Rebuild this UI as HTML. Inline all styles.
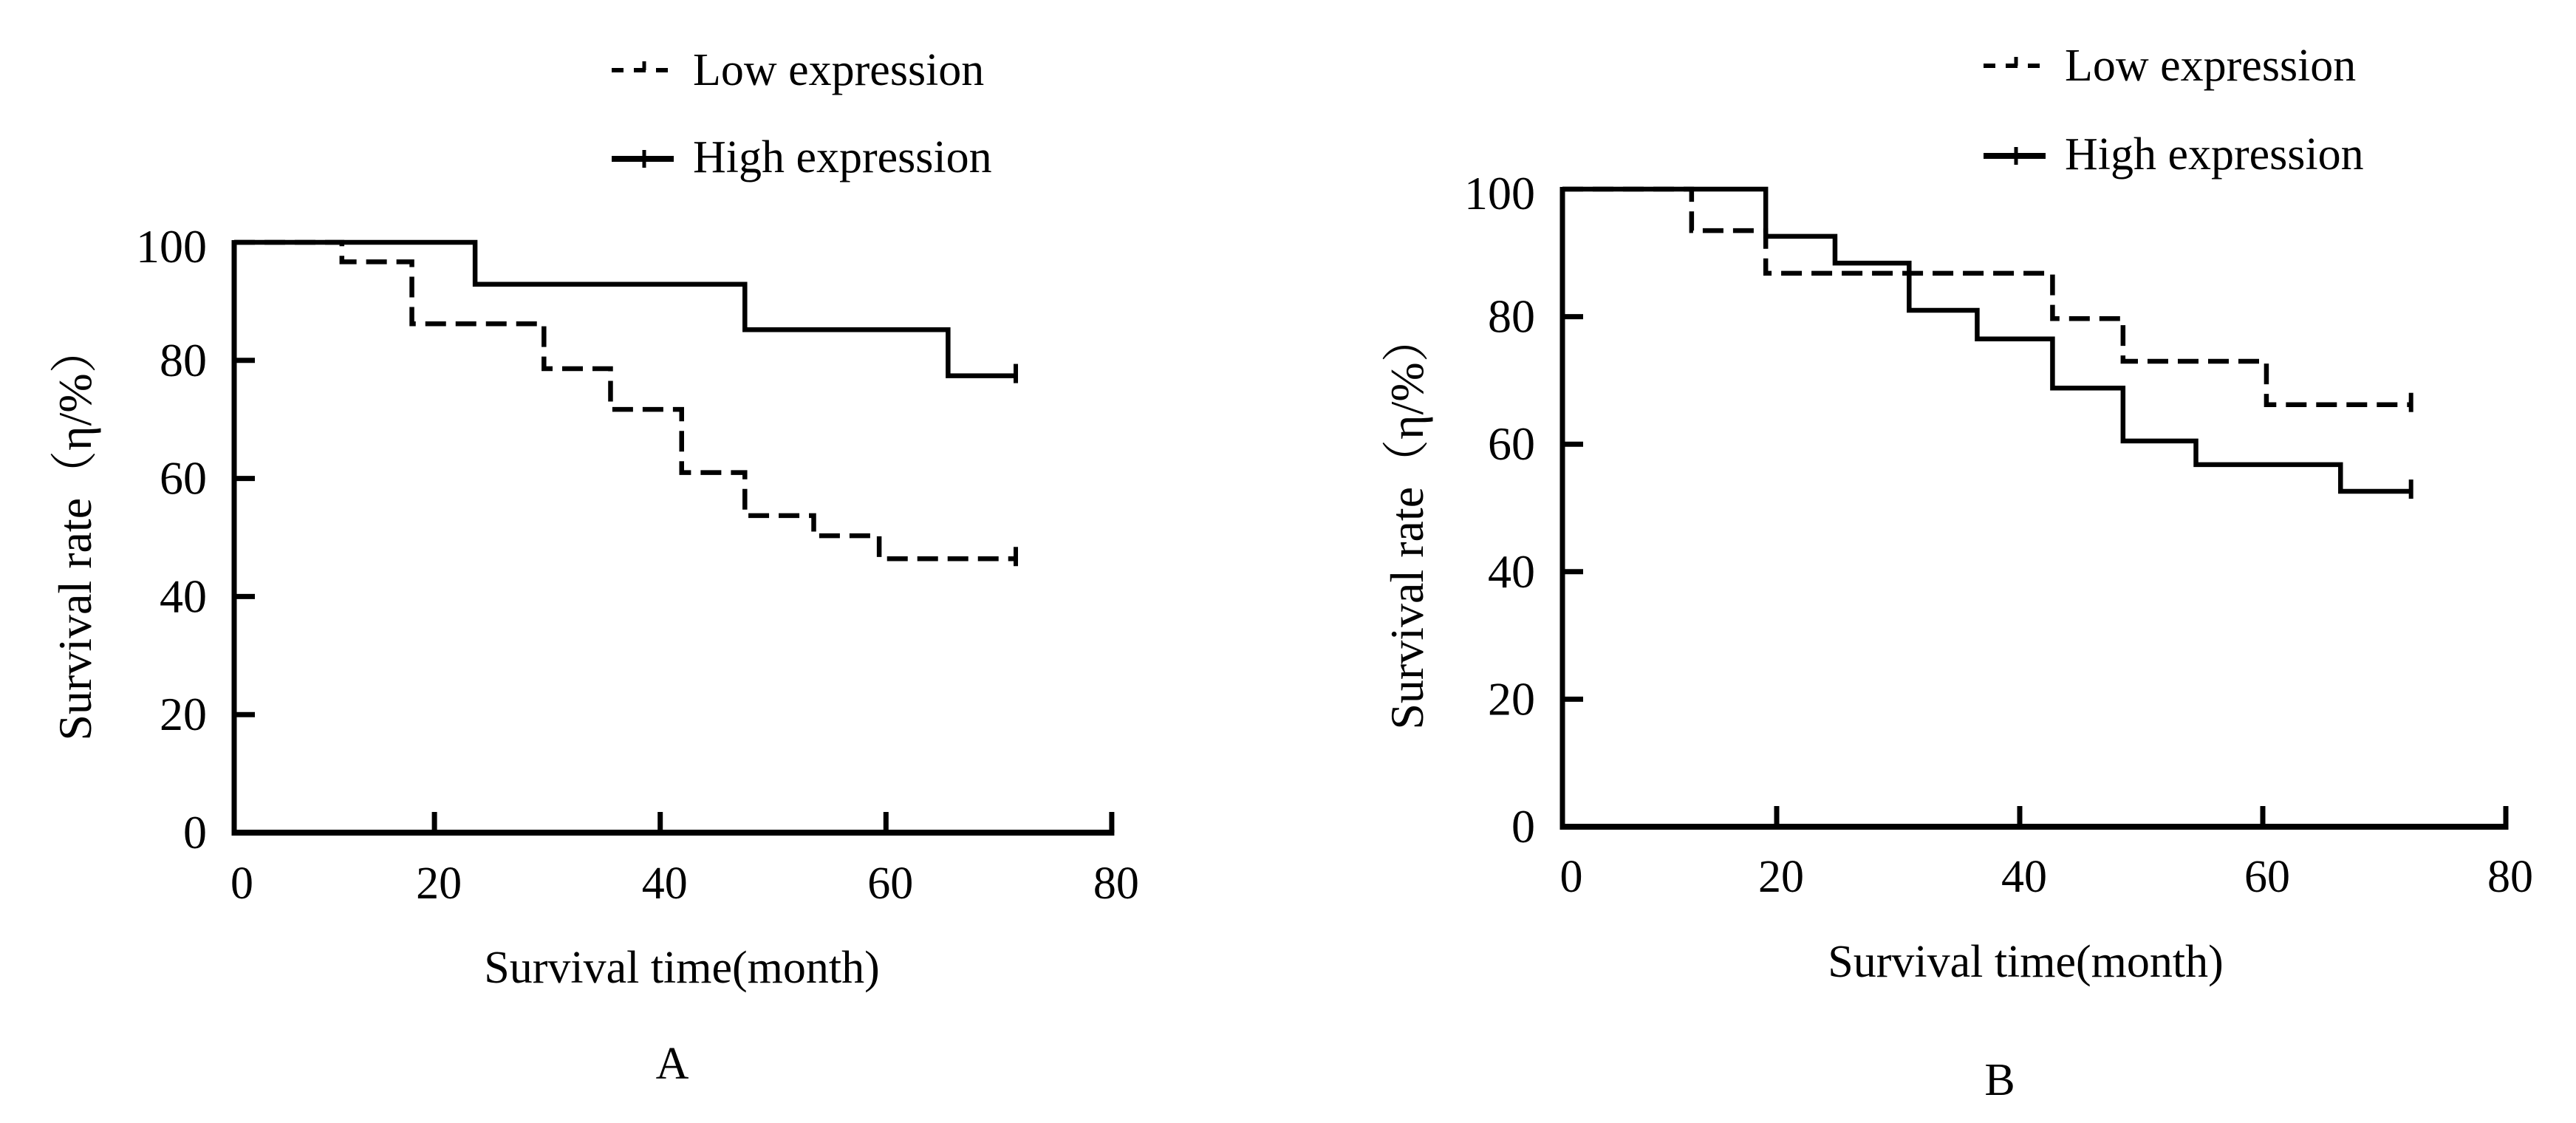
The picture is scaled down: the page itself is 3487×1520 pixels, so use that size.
<!DOCTYPE html>
<html><head><meta charset="utf-8">
<style>
html,body{margin:0;padding:0;background:#fff;}
svg{display:block;}
text{font-family:"Liberation Serif","Noto Serif CJK SC",serif;fill:#000;}
</style></head>
<body>
<svg id="fig" width="3487" height="1520" viewBox="0 0 3487 1520" xmlns="http://www.w3.org/2000/svg">
<rect width="3487" height="1520" fill="#fff"/>
</svg>
<script>
// Panel A data
const aLowTimes=[11.8,18,29.7,35.6,41.9,47.5,53.6,59.4];
const aLowSurv=[96.7,86.2,78.6,71.7,61,53.7,50.3,46.4];
const aLowEnd=71.5;
const aHighTimes=[23.6,47.5,65.5];
const aHighSurv=[92.9,85.2,77.4];
const aHighEnd=71.5;
// Panel B data
const bLowTimes=[13,19.1,42.7,48.5,60.3];
const bLowSurv=[93.5,86.8,79.7,73,66.2];
const bLowEnd=72.2;
const bHighTimes=[19.1,24.8,30.9,36.5,42.7,48.5,54.5,66.4];
const bHighSurv=[92.6,88.4,81,76.5,68.8,60.5,56.8,52.6];
const bHighEnd=72.2;
// Axis ticks
const xTicks=[0,20,40,60,80];
const yTicks=[0,20,40,60,80,100];

const NS='http://www.w3.org/2000/svg';
const svg=document.getElementById('fig');
function mk(tag,attrs,parent){const e=document.createElementNS(NS,tag);for(const k in attrs)e.setAttribute(k,attrs[k]);(parent||svg).appendChild(e);return e;}

function panel(cfg){
  const g=mk('g',{});
  
  
  const X=t=>cfg.x0+cfg.kx*t, Y=v=>cfg.y0-cfg.ky*v;
  const ax=cfg.axisX, ay=Y(0);
  const yAxis=mk('line',{x1:ax,y1:Y(100)-3,x2:ax,y2:ay+3.5,stroke:'#000','stroke-width':7},g);
  
  
  const xAxis=mk('line',{x1:ax-3.5,y1:ay,x2:X(80)+3.5,y2:ay,stroke:'#000','stroke-width':8},g);
  
  
  xTicks.forEach(t=>{
    if(t>0){const tk=mk('line',{x1:X(t),y1:ay,x2:X(t),y2:ay-28,stroke:'#000','stroke-width':7},g);
      
      }
    const lb=mk('text',{x:X(t)+(t===0?cfg.zeroOff:6),y:cfg.xLabelY,'font-size':62,'text-anchor':'middle'},g);
    lb.textContent=t;
    
    
  });
  yTicks.forEach(v=>{
    if(v>0&&v<100){const tk=mk('line',{x1:ax,y1:Y(v),x2:ax+28,y2:Y(v),stroke:'#000','stroke-width':7},g);
      
      }
    const lb=mk('text',{x:cfg.yLabelX,y:Y(v)+(v===100?27:21),'font-size':64,'text-anchor':'end'},g);
    lb.textContent=v;
    
    
  });
  function curve(times,surv,end,dashed,nm){
    let d='M'+ax+','+Y(100);
    let prev=100;
    times.forEach((t,i)=>{d+=' H'+X(t)+' V'+Y(surv[i]);prev=surv[i];});
    d+=' H'+X(end);
    const p=mk('path',{d:d,fill:'none',stroke:'#000','stroke-width':6.5,'stroke-dasharray':dashed?'28 13':'none'},g);
    
    
    const c=mk('line',{x1:X(end),y1:Y(prev)-16,x2:X(end),y2:Y(prev)+10,stroke:'#000','stroke-width':6},g);
    
    
  }
  curve(cfg.lowT,cfg.lowS,cfg.lowE,true,'low-expression-curve');
  curve(cfg.highT,cfg.highS,cfg.highE,false,'high-expression-curve');
  const l1=mk('line',{x1:cfg.legX,y1:cfg.legY1,x2:cfg.legX+84,y2:cfg.legY1,stroke:'#000','stroke-width':6,'stroke-dasharray':'16 14'},g);
  
  
  const l1t=mk('line',{x1:cfg.legX+44,y1:cfg.legY1-12,x2:cfg.legX+44,y2:cfg.legY1,stroke:'#000','stroke-width':5},g);
  
  
  const t1=mk('text',{x:cfg.legX+110,y:cfg.legY1+20,'font-size':62},g);
  t1.textContent='Low expression';
  
  
  const l2=mk('line',{x1:cfg.legX,y1:cfg.legY2,x2:cfg.legX+84,y2:cfg.legY2,stroke:'#000','stroke-width':8},g);
  
  
  const l2t=mk('line',{x1:cfg.legX+44,y1:cfg.legY2-12,x2:cfg.legX+44,y2:cfg.legY2+12,stroke:'#000','stroke-width':5},g);
  
  
  const t2=mk('text',{x:cfg.legX+110,y:cfg.legY2+18,'font-size':62},g);
  t2.textContent='High expression';
  
  
  const xt=mk('text',{x:cfg.xTitleX,y:cfg.xTitleY,'font-size':62,'text-anchor':'middle'},g);
  xt.textContent='Survival time(month)';
  
  
  const yt=mk('text',{x:0,y:0,'font-size':64,'text-anchor':'middle',transform:'translate('+(cfg.yTitleX+20)+','+cfg.yTitleY+') rotate(-90)'},g);
  yt.textContent='Survival rate（η/%）';
  
  
  const pl=mk('text',{x:cfg.plX,y:cfg.plY,'font-size':62,'text-anchor':'middle'},g);
  pl.textContent=cfg.label;
  
  
}

panel({name:'panel-a',x0:282.5,kx:15.28,y0:1127,ky:7.99,axisX:317,zeroOff:45,xLabelY:1216,yLabelX:280,
  lowT:aLowTimes,lowS:aLowSurv,lowE:aLowEnd,highT:aHighTimes,highS:aHighSurv,highE:aHighEnd,
  legX:828,legY1:95,legY2:215,xTitleX:923,xTitleY:1330,yTitleX:103,yTitleY:722,plX:910,plY:1460,label:'A'});
panel({name:'panel-b',x0:2076,kx:16.45,y0:1119,ky:8.63,axisX:2115,zeroOff:51,xLabelY:1207,yLabelX:2078,
  lowT:bLowTimes,lowS:bLowSurv,lowE:bLowEnd,highT:bHighTimes,highS:bHighSurv,highE:bHighEnd,
  legX:2685,legY1:89,legY2:211,xTitleX:2742,xTitleY:1322,yTitleX:1906,yTitleY:707,plX:2707,plY:1482,label:'B'});
</script>
</body></html>
